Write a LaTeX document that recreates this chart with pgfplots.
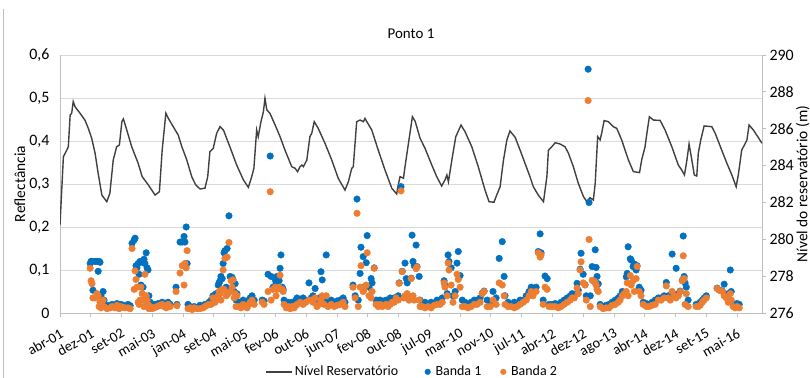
\documentclass[border=0pt]{standalone}
\usepackage{pgfplots}
\pgfplotsset{compat=1.18}
\usepackage{pgfplotstable}
\usepackage{fontspec}
\setmainfont{Carlito}
\definecolor{bandA}{RGB}{0,112,192}
\definecolor{bandB}{RGB}{237,125,49}
\definecolor{lvl}{RGB}{64,64,64}
\definecolor{gridc}{RGB}{217,217,217}
\definecolor{axc}{RGB}{191,191,191}
\pgfplotsset{
  lvlleg/.style={legend image code/.code={\draw[##1] (0bp,0bp) -- (26bp,0bp);}},
  dotleg/.style={legend image code/.code={\draw[mark repeat=2, mark phase=2, ##1] plot coordinates {(0bp,0bp) (4bp,0bp) (8bp,0bp)};}}
}

\pgfplotstableread{
x b1 b2
0.98 0.115 0.104
1.01 0.120 0.075
1.04 0.120 0.068
1.07 0.053 0.035
1.14 0.120 0.035
1.20 0.120 0.045
1.24 0.097 0.040
1.27 0.120 0.015
1.30 0.118 0.025
1.33 0.040 0.012
1.40 0.050 0.030
1.43 0.030 0.015
1.53 0.018 0.010
1.63 0.016 0.012
1.69 0.020 0.015
1.79 0.018 0.012
1.85 0.022 0.018
1.92 0.015 0.010
1.98 0.020 0.015
2.05 0.018 0.013
2.11 0.015 0.012
2.21 0.020 0.012
2.28 0.017 0.010
2.34 0.162 0.150
2.41 0.170 0.055
2.44 0.174 0.098
2.47 0.110 0.078
2.50 0.105 0.060
2.54 0.115 0.025
2.57 0.090 0.020
2.60 0.120 0.030
2.63 0.065 0.060
2.67 0.118 0.045
2.70 0.060 0.030
2.73 0.125 0.015
2.76 0.115 0.090
2.80 0.140 0.040
2.83 0.105 0.030
2.86 0.100 0.020
2.89 0.040 0.010
2.93 0.025 0.015
2.99 0.015 0.010
3.06 0.020 0.012
3.12 0.018 0.014
3.19 0.022 0.016
3.25 0.020 0.018
3.32 0.025 0.020
3.38 0.022 0.015
3.45 0.018 0.012
3.51 0.025 0.020
3.58 0.020 0.015
3.77 0.060 0.050
3.80 0.020 0.017
3.90 0.165 0.093
3.97 0.165 0.110
4.03 0.178 0.065
4.06 0.165 0.115
4.10 0.200 0.105
4.13 0.115 0.145
4.16 0.020 0.010
4.23 0.015 0.012
4.29 0.012 0.008
4.36 0.015 0.012
4.45 0.012 0.010
4.55 0.018 0.010
4.65 0.015 0.012
4.71 0.020 0.015
4.78 0.020 0.018
4.84 0.025 0.020
4.91 0.030 0.020
4.97 0.040 0.035
5.04 0.035 0.025
5.07 0.045 0.035
5.14 0.065 0.040
5.17 0.070 0.050
5.20 0.075 0.045
5.23 0.085 0.030
5.27 0.080 0.055
5.30 0.115 0.100
5.33 0.140 0.055
5.36 0.145 0.127
5.40 0.060 0.040
5.43 0.150 0.130
5.46 0.050 0.045
5.49 0.226 0.164
5.53 0.085 0.050
5.56 0.080 0.075
5.59 0.083 0.060
5.62 0.078 0.077
5.66 0.050 0.035
5.69 0.068 0.045
5.72 0.030 0.015
5.75 0.045 0.040
5.82 0.025 0.015
5.88 0.020 0.012
5.95 0.030 0.020
6.01 0.025 0.015
6.08 0.020 0.012
6.14 0.030 0.020
6.18 0.035 0.025
6.24 0.040 0.030
6.31 0.030 0.020
6.57 0.030 0.025
6.63 0.028 0.020
6.76 0.090 0.050
6.83 0.365 0.282
6.86 0.085 0.030
6.92 0.060 0.055
6.99 0.078 0.060
7.02 0.070 0.040
7.05 0.085 0.055
7.12 0.075 0.060
7.15 0.104 0.088
7.18 0.135 0.055
7.22 0.060 0.055
7.25 0.055 0.050
7.28 0.030 0.020
7.35 0.020 0.012
7.41 0.025 0.015
7.48 0.020 0.010
7.54 0.025 0.015
7.61 0.022 0.012
7.67 0.030 0.018
7.70 0.035 0.020
7.80 0.032 0.025
7.90 0.035 0.020
7.99 0.030 0.025
8.09 0.070 0.030
8.16 0.035 0.030
8.22 0.040 0.025
8.29 0.057 0.035
8.35 0.030 0.015
8.42 0.035 0.020
8.48 0.096 0.030
8.52 0.077 0.040
8.58 0.030 0.020
8.65 0.135 0.040
8.71 0.025 0.015
8.81 0.030 0.020
8.91 0.025 0.015
9.00 0.028 0.018
9.10 0.030 0.020
9.20 0.035 0.025
9.26 0.025 0.015
9.52 0.065 0.060
9.59 0.040 0.035
9.65 0.265 0.232
9.69 0.030 0.015
9.75 0.092 0.060
9.78 0.153 0.110
9.85 0.131 0.050
9.88 0.060 0.055
9.95 0.117 0.065
9.98 0.180 0.140
10.04 0.060 0.040
10.11 0.080 0.035
10.14 0.070 0.050
10.21 0.105 0.104
10.27 0.030 0.020
10.34 0.025 0.015
10.40 0.030 0.020
10.47 0.022 0.015
10.53 0.028 0.018
10.60 0.030 0.020
10.66 0.025 0.015
10.73 0.035 0.020
10.79 0.030 0.025
10.86 0.035 0.025
10.92 0.036 0.035
10.99 0.040 0.030
11.02 0.070 0.069
11.08 0.294 0.284
11.12 0.097 0.096
11.18 0.036 0.035
11.21 0.116 0.040
11.25 0.080 0.035
11.28 0.070 0.045
11.34 0.035 0.030
11.41 0.081 0.080
11.44 0.181 0.035
11.47 0.120 0.040
11.51 0.110 0.030
11.57 0.158 0.103
11.60 0.108 0.107
11.67 0.085 0.030
11.70 0.030 0.015
11.77 0.020 0.015
11.86 0.025 0.012
11.96 0.020 0.015
12.06 0.025 0.012
12.16 0.022 0.018
12.25 0.030 0.020
12.35 0.030 0.020
12.42 0.035 0.025
12.48 0.075 0.070
12.51 0.065 0.060
12.58 0.045 0.040
12.61 0.135 0.116
12.64 0.120 0.100
12.71 0.105 0.065
12.77 0.040 0.025
12.84 0.050 0.040
12.90 0.116 0.090
12.94 0.143 0.078
13.00 0.087 0.060
13.07 0.030 0.015
13.16 0.025 0.015
13.26 0.020 0.012
13.36 0.025 0.015
13.46 0.030 0.020
13.55 0.030 0.020
13.65 0.035 0.025
13.72 0.046 0.045
13.78 0.051 0.050
13.88 0.030 0.015
13.98 0.020 0.015
14.07 0.050 0.030
14.17 0.035 0.020
14.27 0.127 0.070
14.37 0.166 0.065
14.43 0.085 0.040
14.46 0.040 0.020
14.56 0.025 0.015
14.66 0.020 0.015
14.76 0.025 0.012
14.85 0.020 0.015
14.95 0.030 0.020
15.05 0.030 0.025
15.15 0.040 0.030
15.24 0.050 0.040
15.31 0.060 0.050
15.37 0.050 0.040
15.47 0.060 0.050
15.54 0.143 0.140
15.60 0.184 0.130
15.63 0.140 0.135
15.70 0.030 0.020
15.76 0.086 0.060
15.83 0.080 0.055
15.89 0.020 0.015
15.99 0.020 0.015
16.09 0.022 0.015
16.19 0.020 0.012
16.28 0.025 0.015
16.38 0.030 0.020
16.48 0.035 0.025
16.58 0.040 0.030
16.64 0.045 0.035
16.71 0.040 0.035
16.80 0.069 0.058
16.84 0.053 0.045
16.90 0.102 0.100
16.93 0.139 0.119
17.00 0.090 0.070
17.06 0.066 0.065
17.10 0.040 0.030
17.16 0.567 0.494
17.19 0.257 0.171
17.23 0.040 0.015
17.29 0.108 0.076
17.36 0.075 0.074
17.39 0.147 0.070
17.42 0.106 0.065
17.45 0.085 0.055
17.49 0.068 0.050
17.55 0.020 0.015
17.65 0.015 0.010
17.75 0.018 0.012
17.84 0.020 0.012
17.94 0.025 0.018
18.04 0.030 0.020
18.14 0.035 0.025
18.20 0.040 0.030
18.27 0.050 0.040
18.33 0.046 0.045
18.40 0.084 0.050
18.43 0.092 0.070
18.46 0.154 0.040
18.53 0.126 0.087
18.56 0.123 0.065
18.62 0.108 0.075
18.66 0.114 0.050
18.72 0.100 0.080
18.75 0.110 0.108
18.82 0.060 0.050
18.88 0.053 0.040
18.95 0.025 0.020
19.05 0.022 0.015
19.14 0.020 0.015
19.24 0.025 0.018
19.34 0.030 0.020
19.44 0.035 0.030
19.53 0.035 0.030
19.63 0.040 0.035
19.70 0.071 0.063
19.76 0.040 0.035
19.83 0.035 0.030
19.89 0.137 0.050
19.96 0.041 0.040
20.02 0.104 0.035
20.09 0.045 0.040
20.15 0.051 0.050
20.22 0.076 0.075
20.25 0.179 0.133
20.28 0.085 0.080
20.31 0.070 0.020
20.35 0.060 0.045
20.41 0.030 0.015
20.67 0.020 0.015
20.74 0.020 0.015
20.80 0.025 0.018
20.87 0.030 0.025
20.93 0.035 0.030
21.00 0.040 0.035
21.35 0.058 0.057
21.42 0.054 0.053
21.52 0.051 0.050
21.58 0.067 0.040
21.65 0.040 0.035
21.71 0.045 0.025
21.78 0.100 0.045
21.81 0.050 0.030
21.87 0.020 0.015
21.94 0.020 0.012
22.00 0.022 0.015
22.07 0.020 0.012
}\refl

\pgfplotstableread{
x lvl
0.00 280.78
0.11 284.48
0.22 284.84
0.27 285.02
0.33 286.74
0.38 286.84
0.43 287.47
0.49 287.19
0.65 286.84
0.81 286.47
0.92 286.02
1.03 285.48
1.14 284.67
1.24 283.58
1.36 282.40
1.52 282.04
1.62 282.49
1.73 284.30
1.84 285.02
1.93 285.12
2.01 286.38
2.06 286.53
2.17 285.93
2.33 285.02
2.54 284.12
2.67 283.40
2.87 282.95
3.09 282.40
3.23 282.58
3.32 284.84
3.44 286.84
3.52 286.56
3.68 286.11
3.84 285.66
3.96 285.02
4.12 284.30
4.28 283.40
4.41 282.95
4.55 282.73
4.71 282.77
4.80 283.40
4.87 284.75
4.98 284.94
5.09 285.75
5.20 286.11
5.31 285.93
5.52 285.02
5.74 284.03
5.96 283.22
6.12 282.82
6.23 283.40
6.30 283.85
6.39 285.93
6.44 285.57
6.53 286.38
6.61 286.93
6.66 287.65
6.72 287.02
6.82 286.84
6.99 286.20
7.15 285.57
7.31 284.84
7.53 283.94
7.64 283.85
7.72 283.67
7.80 283.94
7.86 284.03
7.91 283.94
8.02 284.30
8.12 285.57
8.18 285.75
8.26 286.38
8.39 286.02
8.61 285.21
8.83 284.30
9.04 283.31
9.26 282.67
9.37 283.12
9.48 283.85
9.53 283.94
9.64 286.38
9.75 286.47
9.86 286.38
9.91 286.56
9.97 286.38
10.13 285.93
10.34 284.84
10.56 283.76
10.78 282.77
10.94 282.46
10.99 282.95
11.05 283.40
11.16 283.31
11.21 283.94
11.37 285.75
11.45 286.65
11.54 286.40
11.70 285.48
11.86 284.94
12.08 284.03
12.24 283.40
12.40 282.89
12.51 283.22
12.57 283.49
12.62 283.12
12.75 284.48
12.86 285.57
12.91 285.75
13.03 286.20
13.16 285.84
13.38 285.02
13.59 283.94
13.81 282.67
13.94 282.04
14.10 282.01
14.19 282.40
14.30 282.85
14.41 284.30
14.52 285.39
14.62 285.88
14.79 285.53
14.95 284.84
15.11 284.12
15.27 283.40
15.38 282.85
15.54 282.40
15.71 282.04
15.82 283.40
15.87 284.84
15.98 285.02
16.09 285.24
16.25 285.17
16.41 285.02
16.52 284.67
16.68 283.94
16.84 283.04
17.01 282.31
17.12 282.04
17.22 282.26
17.33 282.13
17.39 283.04
17.47 285.57
17.55 285.39
17.60 285.75
17.68 286.44
17.82 286.38
17.98 286.11
18.09 286.02
18.25 285.39
18.47 284.30
18.63 283.67
18.83 283.62
18.90 284.30
19.01 285.02
19.07 285.75
19.15 286.65
19.28 286.47
19.50 286.45
19.66 285.93
19.88 285.02
20.09 284.03
20.20 283.76
20.29 283.49
20.37 284.30
20.44 285.17
20.53 284.30
20.61 283.49
20.69 283.43
20.74 284.67
20.82 285.39
20.93 286.15
21.18 286.11
21.29 285.75
21.50 284.84
21.67 284.12
21.83 283.49
21.97 282.85
22.04 283.49
22.15 284.84
22.24 285.12
22.32 285.39
22.39 286.20
22.53 285.93
22.67 285.57
22.81 285.21
}\nivel

\begin{document}
\begin{tikzpicture}[font=\fontsize{14}{16}\selectfont]
\path[use as bounding box] (0,0) rectangle (810bp,378bp);
\draw[axc, line width=0.6bp] (3bp,0) -- (3bp,369bp);
\pgfplotsset{base/.style={at={(60bp,65bp)}, anchor=south west, scale only axis,
  width=702bp, height=258bp, xmin=0, xmax=22.81,
  /pgf/number format/assume math mode=true,
  yticklabel style={font=\fontsize{16}{18}\selectfont},
  xticklabel style={font=\fontsize{14.5}{17}\selectfont},
  label style={font=\fontsize{15.5}{18}\selectfont}}}
% axis 1: left scale, grid, x axis
\begin{axis}[base, ymin=0, ymax=0.6,
  ytick={0,0.1,0.2,0.3,0.4,0.5,0.6},
  yticklabel style={xshift=-3bp, /pgf/number format/.cd, use comma, fixed, precision=1},
  ymajorgrids, grid style={gridc, line width=0.8bp},
  axis x line*=bottom, axis y line*=left,
  axis line style={axc, line width=0.8bp},
  ytick style={draw=none},
  xtick={0,1,...,22},
  xticklabels={abr-01,dez-01,set-02,mai-03,jan-04,set-04,mai-05,fev-06,out-06,jun-07,fev-08,out-08,jul-09,mar-10,nov-10,jul-11,abr-12,dez-12,ago-13,abr-14,dez-14,set-15,mai-16},
  xticklabel style={rotate=30, anchor=north east, inner sep=1bp, yshift=-8bp, xshift=-5bp},
  xtick style={axc, line width=0.8bp}, tick align=outside, major tick length=4bp,
  ylabel={Reflectância},
  ylabel style={at={(axis description cs:-0.057,0.5)}, anchor=center},
  title={Ponto 1}, title style={font=\fontsize{15}{17}\selectfont, yshift=7bp}]
\end{axis}
% axis 2: right scale, reservoir level
\begin{axis}[base, ymin=276, ymax=290,
  ytick={276,278,...,290},
  axis y line*=right, axis x line=none,
  axis line style={axc, line width=0.8bp},
  ytick style={axc, line width=0.8bp}, tick align=outside, major tick length=4bp,
  ylabel={Nível do reservatório (m)},
  ylabel style={at={(axis description cs:1.058,0.5)}, anchor=center},
  legend style={at={(0.504,-0.228)}, anchor=center, draw=none, fill=none,
    legend columns=3, font=\fontsize{14}{16}\selectfont},
  legend cell align=left]
\addplot[lvl, line width=1.4bp, no markers, lvlleg] table[x=x, y=lvl]{\nivel};
\addlegendentry{\makebox[128bp][l]{Nível Reservatório}}
\addlegendimage{only marks, mark=*, mark size=2.8bp, color=bandA, mark options={draw=none, fill=bandA}, dotleg}
\addlegendentry{\makebox[66bp][l]{\hspace{3bp}Banda 1}}
\addlegendimage{only marks, mark=*, mark size=2.8bp, color=bandB, mark options={draw=none, fill=bandB}, dotleg}
\addlegendentry{\makebox[52bp][l]{\hspace{3bp}Banda 2}}
\end{axis}
% axis 3: reflectance points
\begin{axis}[base, ymin=0, ymax=0.6, hide axis]
\addplot[only marks, mark=*, mark size=3.3bp, color=bandA, mark options={draw=none, fill=bandA}] table[x=x, y=b1]{\refl};
\addplot[only marks, mark=*, mark size=3.3bp, color=bandB, mark options={draw=none, fill=bandB}] table[x=x, y=b2]{\refl};
\end{axis}
\end{tikzpicture}
\end{document}
